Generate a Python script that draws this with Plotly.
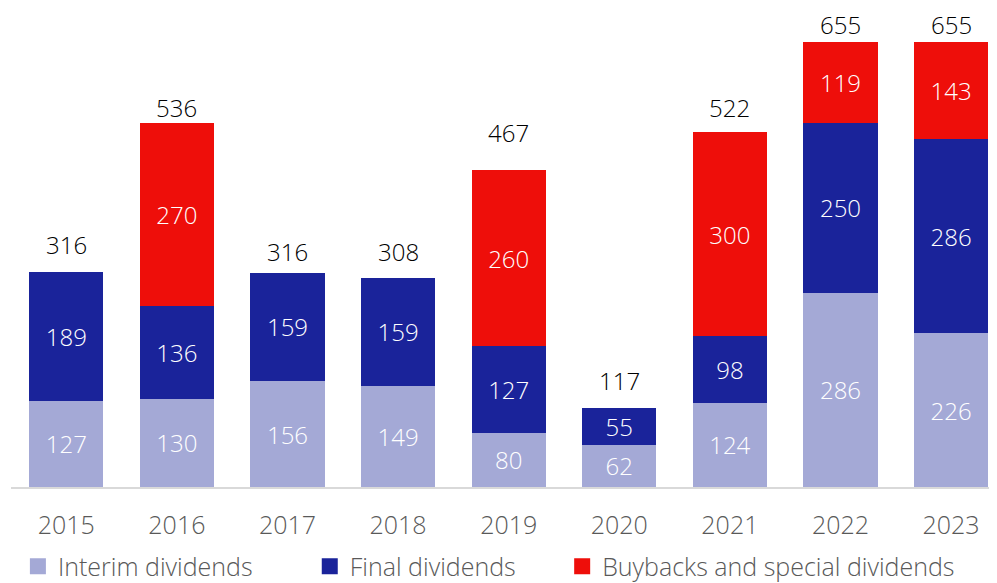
import plotly.graph_objects as go

years = ['2015', '2016', '2017', '2018', '2019', '2020', '2021', '2022', '2023']
interim = [127, 130, 156, 149, 80, 62, 124, 286, 226]
final = [189, 136, 159, 159, 127, 55, 98, 250, 286]
buybacks = [0, 270, 0, 0, 260, 0, 300, 119, 143]
totals = [316, 536, 316, 308, 467, 117, 522, 655, 655]

# pixel lift of each total label above its bar (labels were hand placed)
label_lift = [28, 15, 21, 26, 37, 27, 25, 17, 17]

c_interim = '#A4A9D6'
c_final = '#1A239A'
c_buy = '#EE0E0A'
font = 'Open Sans, Noto Sans, sans-serif'

series = [('Interim dividends', interim, c_interim, 'legend', 0.007),
          ('Final dividends', final, c_final, 'legend2', 0.303),
          ('Buybacks and special dividends', buybacks, c_buy, 'legend3', 0.559)]

fig = go.Figure()

for name, vals, col, leg, _ in series:
    fig.add_trace(go.Bar(
        x=years, y=vals, name=name, marker_color=col, marker_line_width=0,
        text=[str(v) if v else '' for v in vals],
        textposition='inside', insidetextanchor='middle', textangle=0,
        textfont=dict(color='white', size=24, family=font, weight=300),
        constraintext='none', showlegend=False,
        hoverinfo='skip'))
    # legend entry, one legend per series so each can be placed
    fig.add_trace(go.Scatter(
        x=[None], y=[None], mode='markers', name=name, legend=leg,
        marker=dict(symbol='square', size=19, color=col)))

for i, t in enumerate(totals):
    fig.add_annotation(x=i, y=t, text=str(t), showarrow=False,
                       yanchor='middle', yshift=label_lift[i], borderpad=0,
                       font=dict(size=24, color='black', family=font, weight=300))

leg_style = dict(orientation='h', xanchor='left', y=-0.166, yanchor='middle',
                 font=dict(size=25, color='#595959', family=font, weight=300),
                 itemwidth=30, bgcolor='rgba(0,0,0,0)')

# page body has an 8px margin, so the figure is a bit smaller than the window
fig.update_layout(
    barmode='stack', bargap=0.33,
    width=989, height=575,
    margin=dict(l=3, r=0, t=0, b=96, autoexpand=False),
    plot_bgcolor='white', paper_bgcolor='white',
    font=dict(family=font, size=24, color='#595959', weight=300),
    legend=dict(x=series[0][4], **leg_style),
    legend2=dict(x=series[1][4], **leg_style),
    legend3=dict(x=series[2][4], **leg_style),
    xaxis=dict(type='category', range=[-0.5, 8.415], showline=True, linecolor='#D9D9D9',
               linewidth=2, ticks='', ticklabelstandoff=15,
               tickfont=dict(size=25, color='#595959', family=font, weight=300)),
    yaxis=dict(range=[0, 705], visible=False, showgrid=False),
)

fig.write_html("out.html")
